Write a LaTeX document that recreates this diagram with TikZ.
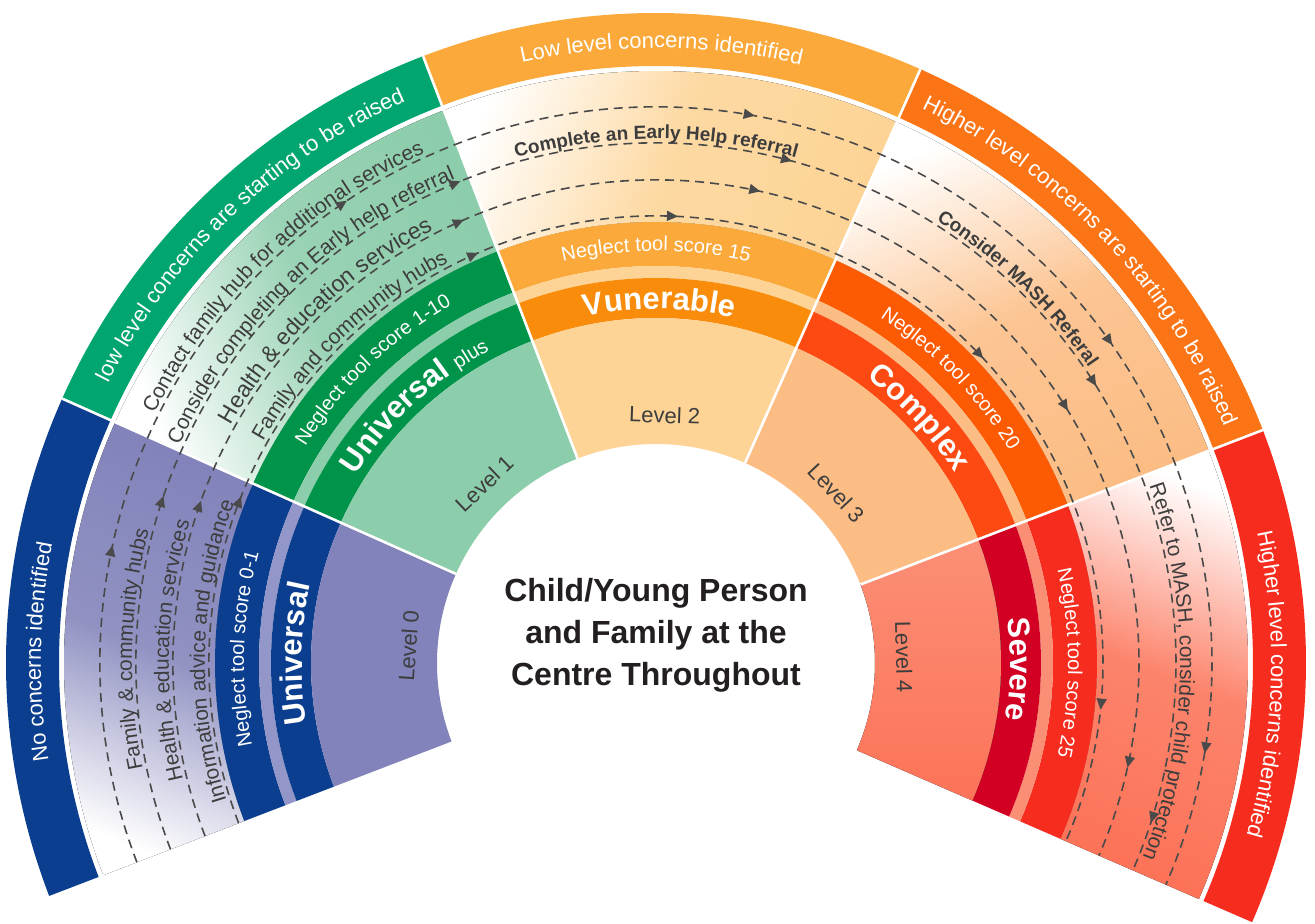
\documentclass[tikz,border=0pt]{standalone}
\usepackage{fontspec}
\setmainfont{Liberation Sans}
\usetikzlibrary{arrows.meta,decorations.text,decorations.markings}

\definecolor{nonavy}{HTML}{0B3E8E}
\definecolor{nolilac}{HTML}{8283BA}
\definecolor{nostrip}{HTML}{9396C9}
\definecolor{lowgreen}{HTML}{00A56F}
\definecolor{lowdark}{HTML}{00944A}
\definecolor{lowpale}{HTML}{8CCDAB}
\definecolor{vulamber}{HTML}{FBA93A}
\definecolor{vulorange}{HTML}{F98C0B}
\definecolor{vulpale}{HTML}{FDD496}
\definecolor{comorange}{HTML}{FB7416}
\definecolor{comdeep}{HTML}{FD5A04}
\definecolor{comband}{HTML}{FC4A12}
\definecolor{compale}{HTML}{FCBD85}
\definecolor{sevred}{HTML}{F52C1E}
\definecolor{sevband}{HTML}{D20022}
\definecolor{sevpale}{HTML}{FC7358}
\definecolor{sevstrip}{HTML}{FB8F76}
\definecolor{trackgray}{HTML}{4A4A4A}
\definecolor{ringtext}{HTML}{3D3D3D}
\definecolor{hubgray}{HTML}{231F20}

\newcommand{\bandfont}{\fontsize{11}{13}\selectfont}
\newcommand{\ringfont}{\fontsize{10.5}{12}\selectfont}
\newcommand{\stepfont}{\fontsize{9.5}{11}\selectfont\bfseries}
\newcommand{\scorefont}{\fontsize{10}{12}\selectfont}
\newcommand{\namefont}{\fontsize{15.5}{18}\selectfont\bfseries}
\newcommand{\plusfont}{\fontsize{10}{12}\selectfont\mdseries}

\begin{document}
\begin{tikzpicture}[x=0.5pt,y=0.5pt,
  ringpart/.style n args={4}{insert path={(#1:#3) arc[start angle=#1,end angle=#2,radius=#3] -- (#2:#4) arc[start angle=#2,end angle=#1,radius=#4] -- cycle}},
  sep/.style={white,line width=1.3pt},
  track/.style={trackgray,line width=0.8pt,dash pattern=on 4.5pt off 3pt},
  curved/.style={decorate,decoration={text along path,text align=center}},
  lvl/.style={text=ringtext,font=\fontsize{11}{13}\selectfont},
  hub/.style={align=center,text=hubgray,font=\fontsize{16}{21}\selectfont\bfseries},
  >={Triangle[length=5.5pt,width=5pt]}]
\fill[white] (-656,-261) rectangle (659,663);
\useasboundingbox (-656,-261) rectangle (659,663);
%Level 0
\fill[nonavy,ringpart={201}{156}{597}{650}];
\fill[bottom color=white,top color=nolilac,middle color=nolilac!88!white,shading angle=-21.5,ringpart={201}{156}{441}{592}];
\fill[nonavy,ringpart={201}{156}{397}{441}];
\fill[nostrip,ringpart={201}{156}{385}{397}];
\fill[nonavy,ringpart={201}{156}{345}{385}];
\fill[nolilac,ringpart={201}{156}{219}{345}];
%Level 1
\fill[lowgreen,ringpart={156}{111}{597}{650}];
\fill[bottom color=white,top color=lowpale,middle color=lowpale!88!white,shading angle=-66.5,ringpart={156}{111}{441}{592}];
\fill[lowdark,ringpart={156}{111}{397}{441}];
\fill[lowpale,ringpart={156}{111}{385}{397}];
\fill[lowdark,ringpart={156}{111}{345}{385}];
\fill[lowpale,ringpart={156}{111}{219}{345}];
%Level 2
\fill[vulamber,ringpart={111}{66}{597}{650}];
\fill[bottom color=white,top color=vulpale,middle color=vulpale!88!white,shading angle=-111.5,ringpart={111}{66}{441}{592}];
\fill[vulamber,ringpart={111}{66}{397}{441}];
\fill[vulpale,ringpart={111}{66}{385}{397}];
\fill[vulorange,ringpart={111}{66}{345}{385}];
\fill[vulpale,ringpart={111}{66}{219}{345}];
%Level 3
\fill[comorange,ringpart={66}{21}{597}{650}];
\fill[bottom color=white,top color=compale,middle color=compale!88!white,shading angle=-156.5,ringpart={66}{21}{441}{592}];
\fill[comdeep,ringpart={66}{21}{397}{441}];
\fill[compale,ringpart={66}{21}{385}{397}];
\fill[comband,ringpart={66}{21}{345}{385}];
\fill[compale,ringpart={66}{21}{219}{345}];
%Level 4
\fill[sevred,ringpart={21}{-23.5}{597}{650}];
\fill[bottom color=white,top color=sevpale,middle color=sevpale!88!white,shading angle=-201.5,ringpart={21}{-23.5}{441}{592}];
\fill[sevred,ringpart={21}{-23.5}{397}{441}];
\fill[sevstrip,ringpart={21}{-23.5}{385}{397}];
\fill[sevband,ringpart={21}{-23.5}{345}{385}];
\fill[top color=sevstrip,bottom color=sevpale,ringpart={21}{-23.5}{219}{345}];
%white edges
\draw[sep] (156:219) -- (156:650);
\draw[sep] (111:219) -- (111:650);
\draw[sep] (66:219) -- (66:650);
\draw[sep] (21:219) -- (21:650);
%dashed tracks
\draw[track,postaction={decorate,decoration={markings,
  mark=at position 0.148 with {\arrow{>}},mark=at position 0.344 with {\arrow{>}},
  mark=at position 0.540 with {\arrow{>}},mark=at position 0.740 with {\arrow{>}},
  mark=at position 0.937 with {\arrow{>}}}}] (201:556) arc[start angle=201,end angle=-23.5,radius=556];
\draw[track,postaction={decorate,decoration={markings,
  mark=at position 0.177 with {\arrow{>}},mark=at position 0.396 with {\arrow{>}},
  mark=at position 0.562 with {\arrow{>}},mark=at position 0.752 with {\arrow{>}},
  mark=at position 0.975 with {\arrow{>}}}}] (201:520) arc[start angle=201,end angle=-23.5,radius=520];
\draw[track,postaction={decorate,decoration={markings,
  mark=at position 0.181 with {\arrow{>}},mark=at position 0.390 with {\arrow{>}},
  mark=at position 0.550 with {\arrow{>}},mark=at position 0.755 with {\arrow{>}},
  mark=at position 0.951 with {\arrow{>}}}}] (201:483) arc[start angle=201,end angle=-23.5,radius=483];
\draw[track,postaction={decorate,decoration={markings,
  mark=at position 0.191 with {\arrow{>}},mark=at position 0.390 with {\arrow{>}},
  mark=at position 0.507 with {\arrow{>}},mark=at position 0.704 with {\arrow{>}},
  mark=at position 0.922 with {\arrow{>}}}}] (201:447) arc[start angle=201,end angle=-23.5,radius=447];
%outer band
\path[curved,decoration={text color=white,text={|\bandfont|No concerns identified}}] (239:615) arc[start angle=239,end angle=119,radius=615];
\path[curved,decoration={text color=white,text={|\bandfont|low level concerns are starting to be raised}}] (193.5:615) arc[start angle=193.5,end angle=73.5,radius=615];
\path[curved,decoration={text color=white,text={|\bandfont|Low level concerns identified}}] (149.5:615) arc[start angle=149.5,end angle=29.5,radius=615];
\path[curved,decoration={text color=white,text={|\bandfont|Higher level concerns are starting to be raised}}] (103.5:615) arc[start angle=103.5,end angle=-16.5,radius=615];
\path[curved,decoration={text color=white,text={|\bandfont|Higher level concerns identified}}] (58:615) arc[start angle=58,end angle=-62,radius=615];
%services
\path[curved,decoration={text color=ringtext,text={|\ringfont|Family {\&} community hubs}}] (238.5:524) arc[start angle=238.5,end angle=118.5,radius=524];
\path[curved,decoration={text color=ringtext,text={|\ringfont|Health {\&} education services}}] (238.5:487) arc[start angle=238.5,end angle=118.5,radius=487];
\path[curved,decoration={text color=ringtext,text={|\ringfont|Information advice and guidance}}] (238.5:451) arc[start angle=238.5,end angle=118.5,radius=451];
\path[curved,decoration={text color=ringtext,text={|\ringfont|Contact family hub for additional services}}] (194:560) arc[start angle=194,end angle=74,radius=560];
\path[curved,decoration={text color=ringtext,text={|\ringfont|Consider completing an Early help referral}}] (194:524) arc[start angle=194,end angle=74,radius=524];
\path[curved,decoration={text color=ringtext,text={|\fontsize{11.5}{13}\selectfont|Health {\&} education services}}] (194:487) arc[start angle=194,end angle=74,radius=487];
\path[curved,decoration={text color=ringtext,text={|\ringfont|Family and community hubs}}] (194:451) arc[start angle=194,end angle=74,radius=451];
\path[curved,decoration={text color=ringtext,text={|\stepfont|Complete an Early Help referral}}] (150:524) arc[start angle=150,end angle=30,radius=524];
\path[curved,decoration={text color=ringtext,text={|\stepfont|Consider MASH Referal}}] (106:524) arc[start angle=106,end angle=-14,radius=524];
\path[curved,decoration={text color=ringtext,text={|\ringfont|Refer to MASH, consider child protection}}] (59:524) arc[start angle=59,end angle=-61,radius=524];
%neglect scores
\path[curved,decoration={text color=white,text={|\scorefont|Neglect tool score 0-1}}] (238:412) arc[start angle=238,end angle=118,radius=412];
\path[curved,decoration={text color=white,text={|\scorefont|Neglect tool score 1-10}}] (194:412) arc[start angle=194,end angle=74,radius=412];
\path[curved,decoration={text color=white,text={|\scorefont|Neglect tool score 15}}] (150:412) arc[start angle=150,end angle=30,radius=412];
\path[curved,decoration={text color=white,text={|\scorefont|Neglect tool score 20}}] (104:412) arc[start angle=104,end angle=-16,radius=412];
\path[curved,decoration={text color=white,text={|\scorefont|Neglect tool score 25}}] (60:412) arc[start angle=60,end angle=-60,radius=412];
%level names
\path[curved,decoration={text color=white,text={|\namefont|Universal}}] (238.5:354) arc[start angle=238.5,end angle=118.5,radius=354];
\path[curved,decoration={text color=white,text={|\namefont|Universal |\plusfont|plus}}] (193:354) arc[start angle=193,end angle=73,radius=354];
\path[curved,decoration={text color=white,text={|\namefont|Vunerable}}] (149.5:354) arc[start angle=149.5,end angle=29.5,radius=354];
\path[curved,decoration={text color=white,text={|\namefont|Complex}}] (103:354) arc[start angle=103,end angle=-17,radius=354];
\path[curved,decoration={text color=white,text={|\namefont|Severe}}] (59:354) arc[start angle=59,end angle=-61,radius=354];
%Text
\node[lvl,rotate=86] (lvl0) at (176:248) {Level 0};
\node[lvl,rotate=43.7] (lvl1) at (133.7:248) {Level 1};
\node[lvl,rotate=-2] (lvl2) at (88:248) {Level 2};
\node[lvl,rotate=-46.8] (lvl3) at (43.2:248) {Level 3};
\node[lvl,rotate=-88.6] (lvl4) at (1.4:248) {Level 4};
\node[hub] (centre) at (0,28) {Child/Young Person\\and Family at the\\Centre Throughout};
\end{tikzpicture}
\end{document}
